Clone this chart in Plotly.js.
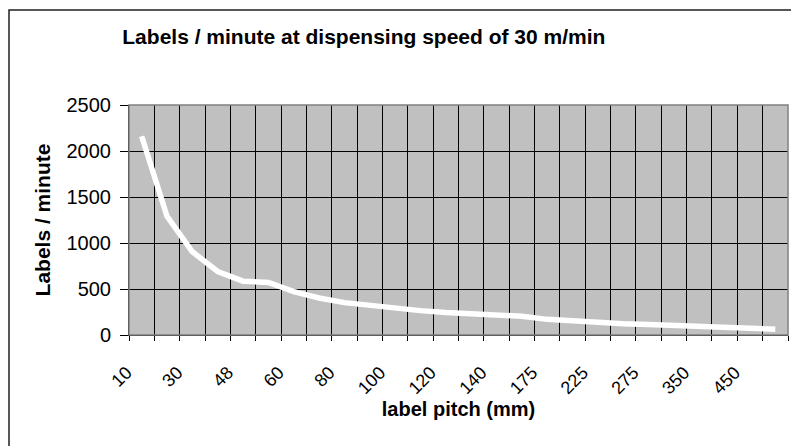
<!DOCTYPE html>
<html>
<head>
<meta charset="utf-8">
<script src="https://cdn.plot.ly/plotly-3.0.1.min.js"></script>
<style>
  html, body { margin: 0; padding: 0; background: #ffffff; }
  #chart { width: 791px; height: 446px; }
</style>
</head>
<body>
<div id="chart"></div>
<script>
// Label pitch categories (mm)
const pitchCategories = ["10","20","30","40","48","50","60","70","80","90","100","110","120","130","140","150","175","200","225","250","275","300","350","400","450","500"];
// Labels per minute at 30 m/min
const labelsPerMinute = [2160,1290,905,690,585,572,472,402,352,320,290,265,244,228,216,204,170,152,136,122,114,104,90,80,70,62];
// Tick labels shown (every other category)
const shownTickLabels = ["10","","30","","48","","60","","80","","100","","120","","140","","175","","225","","275","","350","","450",""];

const FONT = "'Liberation Sans', Arial, sans-serif";

const trace = {
  type: "scatter",
  mode: "lines",
  x: pitchCategories,
  y: labelsPerMinute,
  line: { color: "#ffffff", width: 5.5, shape: "linear" },
  hoverinfo: "skip",
  showlegend: false
};

const layout = {
  width: 791,
  height: 446,
  margin: { l: 129, r: 3, t: 105, b: 111, pad: 0 },
  paper_bgcolor: "#ffffff",
  plot_bgcolor: "#c0c0c0",
  font: { family: FONT, color: "#000000", size: 18 },
  title: {
    text: "<b>Labels / minute at dispensing speed of 30 m/min</b>",
    font: { family: FONT, size: 21, color: "#000000" },
    xref: "container", x: 0.46, xanchor: "center",
    yref: "container", y: 0.917, yanchor: "middle"
  },
  xaxis: {
    type: "category",
    categoryorder: "array",
    categoryarray: pitchCategories,
    range: [-0.5, 25.5],
    tickmode: "array",
    tickvals: pitchCategories,
    ticktext: shownTickLabels,
    tickson: "boundaries",
    ticks: "outside",
    ticklen: 5,
    tickwidth: 1,
    tickcolor: "#000000",
    tickangle: -45,
    ticklabelstandoff: 19,
    ticklabelshift: -15,
    tickfont: { family: FONT, size: 18, color: "#000000" },
    showgrid: true,
    gridcolor: "#000000",
    gridwidth: 1,
    showline: true,
    linecolor: "#000000",
    linewidth: 1,
    zeroline: false,
    title: {
      text: "<b>label pitch (mm)</b>",
      font: { family: FONT, size: 20, color: "#000000" },
      standoff: 4
    }
  },
  yaxis: {
    range: [0, 2500],
    tickmode: "linear",
    tick0: 0,
    dtick: 500,
    ticks: "outside",
    ticklen: 8,
    tickwidth: 1,
    tickcolor: "#000000",
    ticklabelstandoff: 5,
    tickfont: { family: FONT, size: 20, color: "#000000" },
    showgrid: true,
    gridcolor: "#000000",
    gridwidth: 1,
    showline: true,
    linecolor: "#000000",
    linewidth: 1,
    zeroline: false,
    title: {
      text: "<b>Labels / minute</b>",
      font: { family: FONT, size: 21, color: "#000000" },
      standoff: 10
    }
  },
  shapes: [
    // plot area border
    { type: "rect", xref: "paper", yref: "paper", x0: 0, x1: 1, y0: 0, y1: 1,
      line: { color: "#808080", width: 1.5 }, fillcolor: "rgba(0,0,0,0)", layer: "above" },
    // chart area outer border
    { type: "rect", xref: "paper", yref: "paper",
      x0: (9 - 129) / 659, x1: 1.02, y0: -0.6, y1: (335 - 10) / 230,
      line: { color: "#202020", width: 1.5 }, fillcolor: "rgba(0,0,0,0)", layer: "below" }
  ]
};

Plotly.newPlot("chart", [trace], layout, { staticPlot: true, displayModeBar: false });
</script>
</body>
</html>
